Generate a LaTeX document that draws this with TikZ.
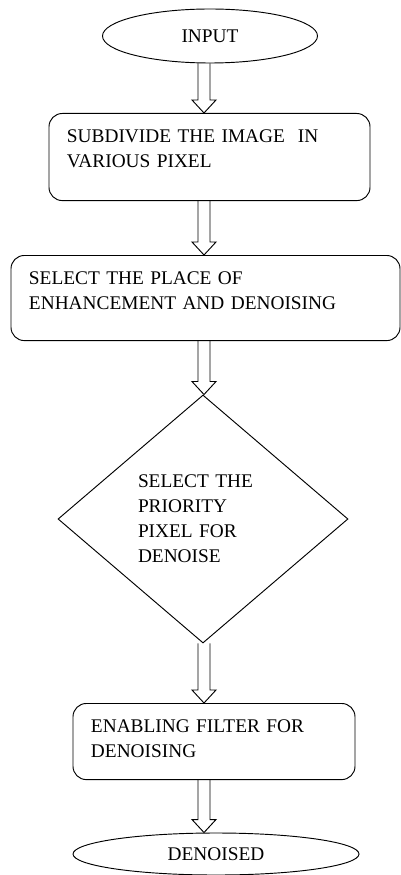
\documentclass[tikz,border=0pt]{standalone}
\usepackage{fontspec}
\setmainfont{Liberation Serif}
\usetikzlibrary{shapes.geometric,calc}

\begin{document}
\begin{tikzpicture}[x=0.03cm,y=-0.03cm,
        line width=0.8pt,
        every node/.style={font=\fontsize{16.5}{21.3}\selectfont},
        terminal/.style={draw,ellipse,inner sep=0pt},
        procbox/.style={draw,rounded corners=0.4cm,align=left,inner xsep=0.54cm,inner ysep=0.5cm},
        decision/.style={draw,diamond,inner sep=0pt,align=left,text width=3.9cm,minimum width=8.7cm,minimum height=7.44cm},
        fatarrow/.style={to path={let \p1=(\tikztostart), \p2=(\tikztotarget) in
            (\x1-0.18cm,\y1) -- (\x1-0.18cm,\y2+0.39cm) -- (\x1-0.36cm,\y2+0.39cm) -- (\x1,\y2)
            -- (\x1+0.36cm,\y2+0.39cm) -- (\x1+0.18cm,\y2+0.39cm) -- (\x1+0.18cm,\y1)}}]
        \useasboundingbox (0,0) rectangle (401,875);

        \coordinate (axis) at (204,0);

        \node[terminal,minimum width=6.45cm,minimum height=1.62cm] (input) at (210,36) {INPUT};
        \node[procbox,anchor=north,text width=8.55cm,text depth=1.23cm] (subdiv) at (209.5,113)
            {SUBDIVIDE THE IMAGE\ \ IN\\VARIOUS PIXEL};
        \node[procbox,anchor=north,text width=10.59cm,text depth=1.17cm] (place) at (205.5,255)
            {SELECT THE PLACE OF\\ENHANCEMENT AND DENOISING};
        \node[decision] (prio) at (203,519)
            {SELECT THE\\PRIORITY\\PIXEL FOR\\DENOISE\\[4pt]};
        \node[procbox,anchor=north,text width=7.38cm,text depth=0.9cm] (filter) at (214,703)
            {ENABLING FILTER FOR\\DENOISING};
        \node[terminal,minimum width=8.58cm,minimum height=1.26cm] (output) at (216,854) {DENOISED};

        % hollow arrows down the middle
        \draw (input.south -| axis) to[fatarrow] (subdiv.north -| axis);
        \draw (subdiv.south -| axis) to[fatarrow] (place.north -| axis);
        \draw (place.south -| axis) to[fatarrow] (prio.north -| axis);
        \draw (prio.south -| axis) to[fatarrow] (filter.north -| axis);
        \draw (filter.south -| axis) to[fatarrow] (output.north -| axis);
    \end{tikzpicture}
\end{document}
